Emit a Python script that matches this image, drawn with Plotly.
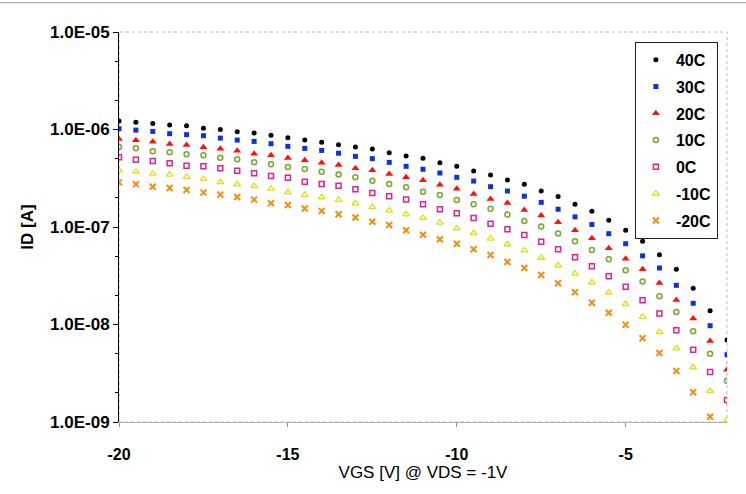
import plotly.graph_objects as go

vgs = [-20.0, -19.5, -19.0, -18.5, -18.0, -17.5, -17.0, -16.5, -16.0, -15.5,
       -15.0, -14.5, -14.0, -13.5, -13.0, -12.5, -12.0, -11.5, -11.0, -10.5,
       -10.0, -9.5, -9.0, -8.5, -8.0, -7.5, -7.0, -6.5, -6.0, -5.5,
       -5.0, -4.5, -4.0, -3.5, -3.0, -2.5, -2.0]

id_40c = [1.22e-6, 1.19e-6, 1.15e-6, 1.11e-6, 1.09e-6, 1.03e-6, 1.00e-6, 9.5e-7, 9.2e-7, 8.72e-7,
          8.24e-7, 7.8e-7, 7.39e-7, 6.97e-7, 6.61e-7, 6.31e-7, 5.78e-7, 5.35e-7, 5.06e-7, 4.56e-7,
          4.19e-7, 3.75e-7, 3.41e-7, 3.03e-7, 2.74e-7, 2.34e-7, 2.05e-7, 1.71e-7, 1.45e-7, 1.17e-7,
          9.25e-8, 7.13e-8, 5.20e-8, 3.68e-8, 2.35e-8, 1.38e-8, 6.93e-9]
id_30c = [1.02e-6, 9.86e-7, 9.56e-7, 9.06e-7, 8.85e-7, 8.64e-7, 8.16e-7, 7.79e-7, 7.55e-7, 7.15e-7,
          6.71e-7, 6.40e-7, 6.10e-7, 5.71e-7, 5.30e-7, 5.02e-7, 4.60e-7, 4.19e-7, 3.91e-7, 3.58e-7,
          3.23e-7, 2.96e-7, 2.59e-7, 2.34e-7, 2.07e-7, 1.79e-7, 1.52e-7, 1.27e-7, 1.06e-7, 8.54e-8,
          6.74e-8, 5.06e-8, 3.80e-8, 2.52e-8, 1.65e-8, 9.72e-9, 4.90e-9]
id_20c = [7.99e-7, 7.75e-7, 7.49e-7, 7.10e-7, 6.93e-7, 6.57e-7, 6.35e-7, 6.06e-7, 5.65e-7, 5.44e-7,
          5.10e-7, 4.83e-7, 4.57e-7, 4.32e-7, 4.00e-7, 3.82e-7, 3.50e-7, 3.23e-7, 3.01e-7, 2.71e-7,
          2.47e-7, 2.18e-7, 1.94e-7, 1.76e-7, 1.49e-7, 1.31e-7, 1.12e-7, 9.25e-8, 7.66e-8, 6.05e-8,
          4.73e-8, 3.68e-8, 2.66e-8, 1.78e-8, 1.15e-8, 6.77e-9, 3.44e-9]
id_10c = [6.61e-7, 6.42e-7, 5.97e-7, 5.84e-7, 5.57e-7, 5.44e-7, 5.14e-7, 4.95e-7, 4.61e-7, 4.39e-7,
          4.12e-7, 3.93e-7, 3.69e-7, 3.45e-7, 3.23e-7, 2.98e-7, 2.76e-7, 2.55e-7, 2.30e-7, 2.13e-7,
          1.89e-7, 1.71e-7, 1.54e-7, 1.34e-7, 1.15e-7, 1.01e-7, 8.58e-8, 7.13e-8, 5.81e-8, 4.66e-8,
          3.60e-8, 2.76e-8, 1.95e-8, 1.34e-8, 8.52e-9, 5.02e-9, 2.65e-9]
id_0c = [5.19e-7, 4.90e-7, 4.75e-7, 4.50e-7, 4.25e-7, 4.19e-7, 4.00e-7, 3.78e-7, 3.55e-7, 3.33e-7,
         3.20e-7, 2.91e-7, 2.76e-7, 2.65e-7, 2.44e-7, 2.23e-7, 2.07e-7, 1.91e-7, 1.71e-7, 1.52e-7,
         1.38e-7, 1.24e-7, 1.08e-7, 9.47e-8, 8.28e-8, 7.06e-8, 5.92e-8, 4.89e-8, 3.95e-8, 3.12e-8,
         2.44e-8, 1.77e-8, 1.30e-8, 8.72e-9, 5.51e-9, 3.26e-9, 1.68e-9]
id_m10c = [3.82e-7, 3.69e-7, 3.52e-7, 3.44e-7, 3.26e-7, 3.11e-7, 2.89e-7, 2.74e-7, 2.63e-7, 2.47e-7,
           2.27e-7, 2.14e-7, 2.02e-7, 1.90e-7, 1.75e-7, 1.60e-7, 1.48e-7, 1.35e-7, 1.24e-7, 1.11e-7,
           9.70e-8, 8.68e-8, 7.59e-8, 6.65e-8, 5.77e-8, 4.84e-8, 4.03e-8, 3.32e-8, 2.71e-8, 2.12e-8,
           1.62e-8, 1.20e-8, 8.38e-9, 5.70e-9, 3.64e-9, 2.08e-9, 1.05e-9]
id_m20c = [2.87e-7, 2.74e-7, 2.59e-7, 2.51e-7, 2.40e-7, 2.25e-7, 2.15e-7, 2.03e-7, 1.91e-7, 1.75e-7,
           1.68e-7, 1.55e-7, 1.46e-7, 1.35e-7, 1.25e-7, 1.13e-7, 1.05e-7, 9.25e-8, 8.34e-8, 7.50e-8,
           6.74e-8, 5.91e-8, 5.16e-8, 4.38e-8, 3.80e-8, 3.22e-8, 2.65e-8, 2.14e-8, 1.67e-8, 1.32e-8,
           9.95e-9, 7.24e-9, 5.10e-9, 3.33e-9, 2.02e-9, 1.13e-9, None]

series_names = ["40C", "30C", "20C", "10C", "0C", "-10C", "-20C"]
series_values = [id_40c, id_30c, id_20c, id_10c, id_0c, id_m10c, id_m20c]

y_tick_vals = [1e-9, 1e-8, 1e-7, 1e-6, 1e-5]
y_tick_text = ["1.0E-09", "1.0E-08", "1.0E-07", "1.0E-06", "1.0E-05"]
x_tick_vals = [-20, -15, -10, -5]
x_tick_text = ["-20", "-15", "-10", "-5"]

styles = [
    dict(symbol="circle", color="#000000", size=5, line=dict(width=0)),
    dict(symbol="square", color="#1030e0", size=5, line=dict(width=0)),
    dict(symbol="triangle-up", color="#ff1010", size=7, line=dict(width=0)),
    dict(symbol="circle-open", color="#78a828", size=5, line=dict(width=1.5, color="#78a828")),
    dict(symbol="square-open", color="#e8208a", size=5, line=dict(width=1.5, color="#e8208a")),
    dict(symbol="triangle-up-open", color="#e0e010", size=6, line=dict(width=1.3, color="#e0e010")),
    dict(symbol="x-thin-open", color="#f09010", size=6, line=dict(width=2, color="#f09010")),
]

FONT = "Liberation Sans, Arial, sans-serif"

fig = go.Figure()
for i, (name, vals, st) in enumerate(zip(series_names, series_values, styles)):
    fig.add_trace(go.Scatter(
        x=vgs, y=vals, mode="markers", name=name,
        legendgroup=f"g{i}",
        marker=st, cliponaxis=True,
    ))

fig.update_layout(
    width=746, height=494,
    margin=dict(l=119, r=19, t=32, b=72),
    paper_bgcolor="white", plot_bgcolor="white",
    font=dict(family=FONT, color="black"),
    showlegend=True,
    legend=dict(
        x=0.985, xanchor="right", y=0.975, yanchor="top",
        bgcolor="white", bordercolor="#222222", borderwidth=1,
        font=dict(family=FONT, size=16, color="black", weight="bold"),
        traceorder="grouped", tracegroupgap=3,
        itemwidth=30,
    ),
    shapes=[
        dict(type="rect", xref="paper", yref="paper", x0=0, x1=1, y0=0, y1=1,
             line=dict(color="#b8b8b8", width=1, dash="dot"), layer="below"),
        dict(type="line", xref="paper", yref="paper", x0=-0.3, x1=1.05, y0=1.075, y1=1.075,
             line=dict(color="#a0a0a0", width=1)),
    ],
)

fig.update_xaxes(
    range=[-20, -2], tickvals=x_tick_vals, ticktext=x_tick_text,
    showgrid=False, zeroline=False,
    showline=True, linecolor="#b0b0b0", linewidth=1,
    ticks="outside", ticklen=4, tickcolor="#909090",
    ticklabelstandoff=14,
    tickfont=dict(family=FONT, size=16, color="black", weight="bold"),
    title=dict(text="VGS [V] @ VDS = -1V", standoff=3,
               font=dict(family=FONT, size=17, color="black")),
)

fig.update_yaxes(
    type="log", range=[-9, -5], tickvals=y_tick_vals, ticktext=y_tick_text,
    showgrid=False, zeroline=False,
    showline=True, linecolor="black", linewidth=1,
    ticks="outside", ticklen=5, tickcolor="black",
    minor=dict(ticks="outside", ticklen=3, tickcolor="black", dtick="D2", showgrid=False),
    tickfont=dict(family=FONT, size=17, color="black", weight="bold"),
    title=dict(text="ID [A]", standoff=12,
               font=dict(family=FONT, size=17, color="black", weight="bold")),
)

fig.write_html("out.html")
